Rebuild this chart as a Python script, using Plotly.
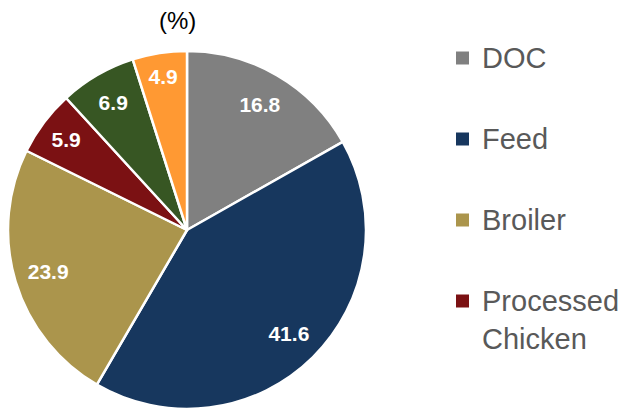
import plotly.graph_objects as go

categories = ["DOC", "Feed", "Broiler", "Processed<br>Chicken", "Others A", "Others B"]
values = [16.8, 41.6, 23.9, 5.9, 6.9, 4.9]
colors = ["#808080", "#17375E", "#AB954C", "#7B1113", "#375623", "#FF9933"]
legend_items = ["DOC", "Feed", "Broiler", "Processed<br>Chicken"]

# the page has an 8px body margin, so the figure is drawn 8px smaller
W, H = 618, 403
FONT = "Liberation Sans, Arial, sans-serif"

pie_domain = dict(x=[0 / W, 358 / W], y=[2 / H, 360 / H])

fig = go.Figure()
# main pie
fig.add_trace(go.Pie(
    labels=categories,
    values=values,
    sort=False,
    direction="clockwise",
    rotation=0,
    marker=dict(colors=colors, line=dict(color="white", width=2.5)),
    textinfo="none",
    showlegend=False,
    hoverinfo="label+value",
    domain=pie_domain,
))
# transparent ring carrying the value labels (places them toward the rim)
fig.add_trace(go.Pie(
    labels=categories,
    values=values,
    sort=False,
    direction="clockwise",
    rotation=0,
    hole=0.62,
    marker=dict(colors=["rgba(0,0,0,0)"] * len(values), line=dict(width=0)),
    texttemplate="%{value:.1f}",
    textposition="inside",
    insidetextorientation="horizontal",
    textfont=dict(family=FONT, size=21, color="white", weight="bold"),
    showlegend=False,
    hoverinfo="skip",
    domain=pie_domain,
))

# title
fig.add_annotation(
    text="(%)", x=169 / W, y=1 - 13 / H, xref="paper", yref="paper",
    showarrow=False, xanchor="center", yanchor="middle",
    font=dict(family=FONT, size=24, color="#000000"),
)

# custom legend
y_centers = [50, 131, 212, 293]
for name, col, yc in zip(legend_items, colors, y_centers):
    fig.add_shape(type="rect", xref="paper", yref="paper",
                  x0=448 / W, x1=461 / W, y0=1 - (yc + 6.5) / H, y1=1 - (yc - 6.5) / H,
                  fillcolor=col, line=dict(width=0))
    fig.add_annotation(
        text=name, x=472 / W, y=1 - (yc - 18) / H, xref="paper", yref="paper",
        showarrow=False, xanchor="left", yanchor="top", align="left",
        font=dict(family=FONT, size=29, color="#595959"),
    )

fig.update_layout(
    width=W, height=H,
    margin=dict(l=0, r=0, t=0, b=0),
    paper_bgcolor="white", plot_bgcolor="white",
    uniformtext=dict(minsize=21, mode="show"),
)

fig.write_html("out.html")
